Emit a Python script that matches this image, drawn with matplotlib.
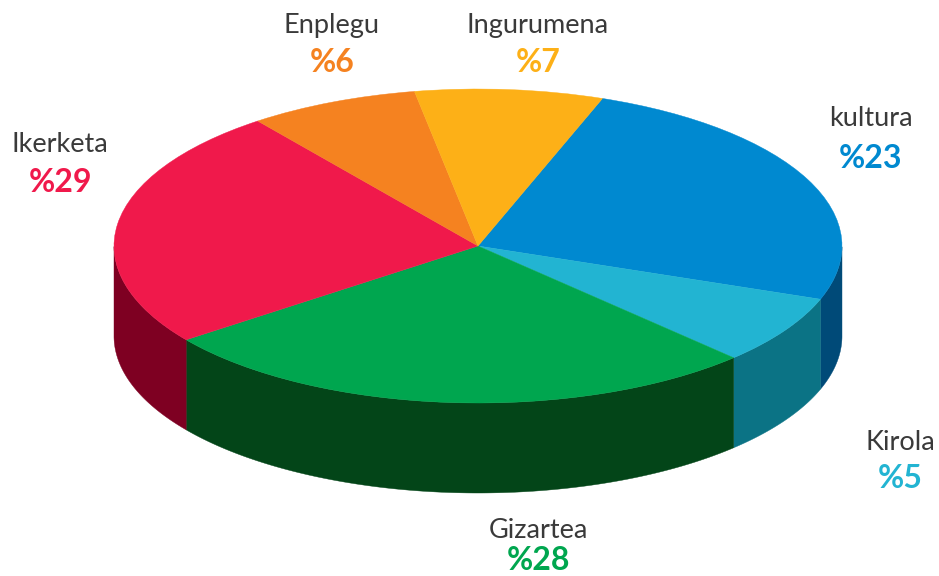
import numpy as np
import matplotlib
matplotlib.use("Agg")
import matplotlib.pyplot as plt
from matplotlib.patches import Wedge, Polygon
from matplotlib.transforms import Affine2D

plt.rcParams['font.family'] = ['Lato', 'DejaVu Sans']

names = ["kultura", "Kirola", "Gizartea", "Ikerketa", "Enplegu", "Ingurumena"]
percent_labels = ["%23", "%5", "%28", "%29", "%6", "%7"]
# Slice sizes as drawn in the picture (they differ from the printed figures)
slice_shares = [24.95, 7.1, 27.2, 24.85, 7.55, 8.35]
top_colors = ["#0089D0", "#22B4D2", "#00A64F", "#F0194B", "#F58220", "#FDB017"]
side_colors = ["#004A78", "#0B7385", "#034518", "#7E0022", "#F58220", "#FDB017"]
label_x = [871, 900, 538, 60, 332, 538]
name_y = [119, 442, 530, 144, 26, 26]
pct_y = [158, 479, 561, 182, 62, 63]

W, H = 939, 576
start_angle = 70.0
cx, cy, rx, ry, depth = 478, 246, 364, 157, 90

fig = plt.figure(figsize=(W / 100, H / 100), dpi=100)
ax = fig.add_axes([0, 0, 1, 1])
ax.set_xlim(0, W)
ax.set_ylim(H, 0)
ax.axis("off")

spans = np.array(slice_shares) / sum(slice_shares) * 360
ends = start_angle - np.cumsum(spans)
starts = ends + spans


def ex(t):
    return cx + rx * np.cos(t)


def ey(t):
    return cy - ry * np.sin(t)


# side wall: only the front half (sin < 0) is visible
for a0, a1, col in zip(starts, ends, side_colors):
    t = np.linspace(np.radians(a1), np.radians(a0), 300)
    t = t[np.sin(t) <= 0]
    if t.size < 2:
        continue
    top = np.column_stack([ex(t), ey(t)])
    bot = np.column_stack([ex(t[::-1]), ey(t[::-1]) + depth])
    ax.add_patch(Polygon(np.vstack([top, bot]), closed=True, fc=col, ec=col, lw=0.3))

# top face: unit wedges squashed into an ellipse (y flipped by the inverted axis)
squash = Affine2D().scale(rx, -ry).translate(cx, cy) + ax.transData
for a0, a1, col in zip(starts, ends, top_colors):
    ax.add_patch(Wedge((0, 0), 1, a1, a0, fc=col, ec=col, lw=0.3, transform=squash))

for n, p, x, y0, y1, col in zip(names, percent_labels, label_x, name_y, pct_y, top_colors):
    ax.text(x, y0, n, ha="center", va="center", fontsize=19.5, fontweight="regular", color="#3a3a3a")
    ax.text(x, y1, p, ha="center", va="center", fontsize=23, fontweight="bold", color=col)

fig.savefig("out.png", dpi=100)
